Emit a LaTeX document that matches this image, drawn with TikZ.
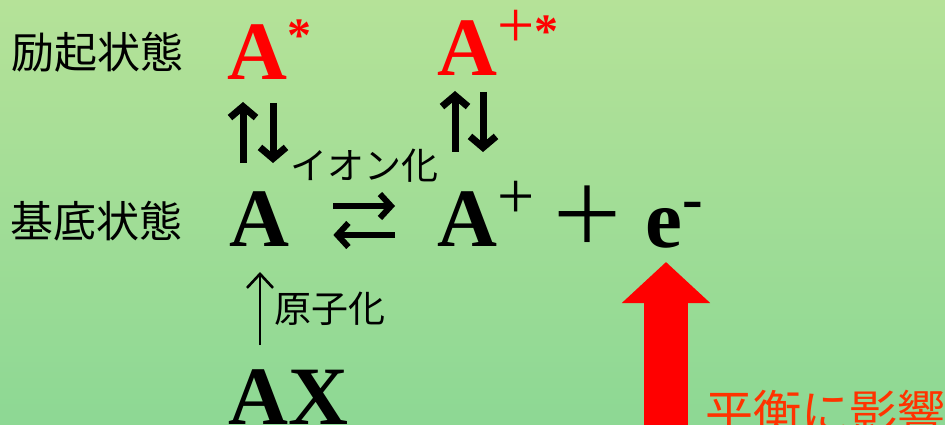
\documentclass[tikz,border=0pt]{standalone}
\usepackage{fontspec}
\setmainfont{Liberation Serif}
\newfontfamily\jpfont{Noto Sans CJK JP}
\usepackage{tikz}
\usetikzlibrary{arrows.meta,positioning,calc}
\definecolor{bgtop}{RGB}{181,226,152}
\definecolor{bgbottom}{RGB}{141,216,148}
\definecolor{exred}{RGB}{255,0,0}
\definecolor{notered}{RGB}{255,51,0}
\newcommand{\supsym}[2]{\raisebox{28pt}{\fontsize{#1}{#1}\selectfont#2}}

\begin{document}
\begin{tikzpicture}[
  x=1pt, y=-1pt,
  chem/.style={font=\bfseries\fontsize{83}{83}\selectfont, inner sep=0pt, anchor=base west},
  state/.style={font=\jpfont\fontsize{43}{43}\selectfont, inner sep=0pt, anchor=west},
  lab/.style={font=\jpfont\fontsize{37}{37}\selectfont, inner sep=0pt},
  fatarrow/.style={line width=7pt, -{Straight Barb[length=11pt,width=26pt]}},
  eqarrow/.style={line width=6pt, -{Straight Barb[length=11pt,width=24pt]}},
  thinarrow/.style={line width=2.6pt, -{Straight Barb[length=14pt,width=26pt]}},
  bigarrow/.style={line width=44pt, exred, -{Triangle[length=41pt,width=86pt]}}
]
\useasboundingbox (0,0) rectangle (945,425);
\clip (0,0) rectangle (945,425);
\shade[top color=bgtop, bottom color=bgbottom] (0,0) rectangle (945,425);

\node[state] (exstate) at (11,52.5) {励起状態};
\node[state] (gstate) at (10,221.5) {基底状態};

\node[chem, text=exred] (Aex) at (227,80) {A\supsym{48}{*}};
\node[chem, text=exred] (Aionex) at (437,76) {A\supsym{66}{\mdseries+}\supsym{48}{*}};
\node[chem] (Ag) at (229,246) {A};
\node[chem] (Aion) at (437,246) {A\supsym{66}{\mdseries+}};
\node[font=\jpfont\fontsize{78}{78}\selectfont, inner sep=0pt] (plus) at (587,215) {＋};
\node[chem] (elec) at (645,247) {e\supsym{62}{-}};
\node[chem] (AX) at (228,424) {AX};
\node[font=\jpfont\fontsize{48}{48}\selectfont, text=notered, inner sep=0pt, anchor=base west]
  (shift) at (705,430) {平衡に影響};

\draw[fatarrow] ($(Ag.base west)+(14,-83)$) -- ($(Ag.base west |- Aex.base)+(14,22)$);
\draw[fatarrow] ($(Ag.base west |- Aex.base)+(44,23)$) -- ($(Ag.base west)+(44,-83)$);
\draw[fatarrow] ($(Aion.base west)+(18,-94)$) -- ($(Aion.base west |- Aionex.base)+(18,15)$);
\draw[fatarrow] ($(Aion.base west |- Aionex.base)+(46,16)$) -- ($(Aion.base west)+(46,-94)$);

\draw[eqarrow] ($(Ag.base east)+(44,-40)$) -- ($(Aion.base west)+(-42,-40)$)
  node[lab, midway, yshift=40pt] (ionize) {イオン化};
\draw[eqarrow] ($(Aion.base west)+(-42,-11)$) -- ($(Ag.base east)+(44,-11)$);

\draw[thinarrow] ($(AX.base west)+(32,-79)$) -- ($(Ag.base west)+(31,26)$)
  node[lab, midway, anchor=west, xshift=13pt] (atomize) {原子化};

\coordinate (bigtail) at (666,440);
\draw[bigarrow] (bigtail) -- ($(elec.base west)+(21,15)$);
\end{tikzpicture}
\end{document}
